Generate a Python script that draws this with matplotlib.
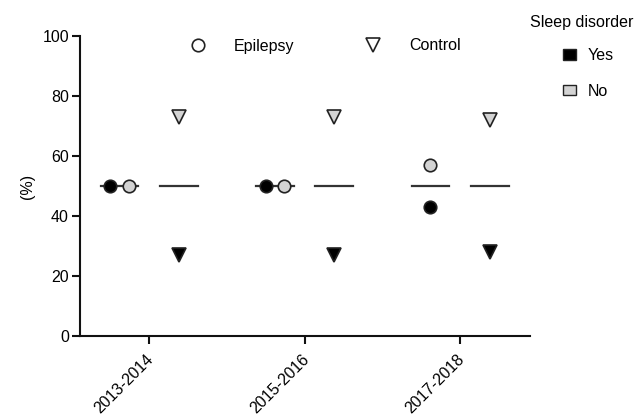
import matplotlib
matplotlib.use("Agg")
import matplotlib.pyplot as plt
from matplotlib.lines import Line2D
from matplotlib.patches import Patch
import matplotlib.transforms as mtransforms
import numpy as np

plt.rcParams['font.family'] = ['Liberation Sans', 'DejaVu Sans']

periods = ["2013-2014", "2015-2016", "2017-2018"]
epilepsy_yes = [50, 50, 43]
epilepsy_no = [50, 50, 57]
control_yes = [27, 27, 28]
control_no = [73, 73, 72]
epilepsy_mean = [50, 50, 50]
control_mean = [50, 50, 50]
# horizontal jitter (x offsets) for overlapping epilepsy points
epi_jitter_yes = [-0.058, -0.058, 0.0]
epi_jitter_no = [0.058, 0.058, 0.0]

fs = 11.5
fig = plt.figure(figsize=(6.39, 4.16), dpi=100)
ax = fig.add_axes([80/639, 80/416, 450/639, 300/416])

x = np.arange(len(periods))
off = 0.19
hw = 0.122
black = "#000000"
gray = "#d3d3d3"
edge = "#222222"

for i in range(len(periods)):
    ax.plot([x[i]-off-hw, x[i]-off+hw], [epilepsy_mean[i]]*2, color="#333333", lw=1.6, zorder=2)
    ax.plot([x[i]+off-hw, x[i]+off+hw], [control_mean[i]]*2, color="#333333", lw=1.6, zorder=2)

ax.plot(x - off + np.array(epi_jitter_yes), epilepsy_yes, 'o', ms=9, mfc=black, mec=edge, mew=1.2, ls='none', zorder=3)
ax.plot(x - off + np.array(epi_jitter_no), epilepsy_no, 'o', ms=9, mfc=gray, mec=edge, mew=1.2, ls='none', zorder=3)
ax.plot(x + off, control_yes, 'v', ms=10, mfc=black, mec=edge, mew=1.2, ls='none', zorder=3)
ax.plot(x + off, control_no, 'v', ms=10, mfc=gray, mec=edge, mew=1.2, ls='none', zorder=3)

ax.set_xlim(-0.444, 2.45)
ax.set_ylim(0, 100)
ax.set_yticks([0, 20, 40, 60, 80, 100])
ax.set_xticks(x)
ax.set_xticklabels(periods, rotation=45, ha='right', rotation_mode='anchor')
for s in ['top', 'right']:
    ax.spines[s].set_visible(False)
for s in ['left', 'bottom']:
    ax.spines[s].set_linewidth(1.5)
    ax.spines[s].set_color("#111111")
ax.tick_params(axis='both', length=6, width=1.5, color="#111111", labelsize=fs)
ax.tick_params(axis='y', pad=2)
ax.tick_params(axis='x', pad=4)
shift = mtransforms.ScaledTranslation(-3/100, -2/100, fig.dpi_scale_trans)
for lbl in ax.get_xticklabels():
    lbl.set_transform(lbl.get_transform() + shift)
ax.set_ylabel("(%)", fontsize=fs, labelpad=5)

h1 = [Line2D([], [], marker='o', ls='none', ms=9, mfc='white', mec=edge, mew=1.2),
      Line2D([], [], marker='v', ls='none', ms=10, mfc='white', mec=edge, mew=1.2)]
leg1 = fig.legend(h1, ["Epilepsy", "Control"], ncol=2, frameon=False, fontsize=fs,
                  loc='center left', bbox_to_anchor=(182/639, 1-46/416),
                  handlelength=2.0, handletextpad=1.25, columnspacing=3.95,
                  borderpad=0, borderaxespad=0)

fig.text(530/639, 1-22/416, "Sleep disorder", fontsize=fs, ha='left', va='center')
h2 = [Patch(facecolor=black, edgecolor=edge, linewidth=1.0),
      Patch(facecolor=gray, edgecolor=edge, linewidth=1.0)]
leg2 = fig.legend(h2, ["Yes", "No"], frameon=False, fontsize=fs,
                  loc='upper left', bbox_to_anchor=(563/639, 1-48/416),
                  handlelength=0.8, handleheight=0.65, handletextpad=0.72,
                  labelspacing=1.3, borderpad=0, borderaxespad=0)

fig.savefig("out.png", dpi=100)
